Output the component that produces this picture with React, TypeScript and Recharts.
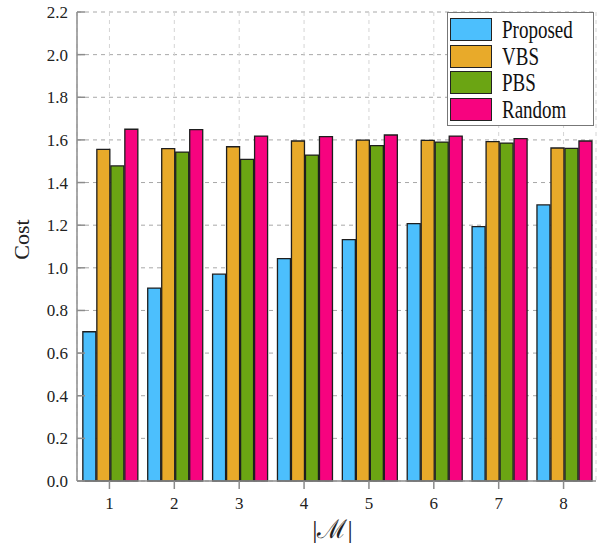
import React from "react"
import {
  BarChart,
  Bar,
  XAxis,
  YAxis,
  CartesianGrid,
  Legend
} from "recharts"

const sizes = ["1", "2", "3", "4", "5", "6", "7", "8"]
const proposed = [0.70, 0.905, 0.97, 1.043, 1.132, 1.207, 1.193, 1.295]
const vbs = [1.556, 1.559, 1.568, 1.595, 1.599, 1.598, 1.592, 1.562]
const pbs = [1.478, 1.543, 1.509, 1.529, 1.573, 1.590, 1.585, 1.560]
const random = [1.65, 1.648, 1.618, 1.615, 1.623, 1.618, 1.606, 1.595]
const yTicks = [0, 0.2, 0.4, 0.6, 0.8, 1.0, 1.2, 1.4, 1.6, 1.8, 2.0, 2.2]

const series = [
  { key: "Proposed", color: "#4cbffd" },
  { key: "VBS", color: "#e8aa2a" },
  { key: "PBS", color: "#6ba513" },
  { key: "Random", color: "#f7037f" }
]

const data = sizes.map((m, i) => ({
  m,
  Proposed: proposed[i],
  VBS: vbs[i],
  PBS: pbs[i],
  Random: random[i]
}))

const font = "'Liberation Serif', serif"
const axisGrey = "#8c8c8c"

function LegendBox() {
  return (
    <div
      style={{
        border: "1.5px solid #777",
        background: "#fff",
        padding: "3px 0 2px 2px",
        fontFamily: font,
        fontSize: 25,
        color: "#111"
      }}
    >
      {series.map(s => (
        <div
          key={s.key}
          style={{ display: "flex", alignItems: "center", height: 26.7 }}
        >
          <div
            style={{
              width: 40,
              height: 21,
              background: s.color,
              border: "1.5px solid #222",
              marginRight: 10,
              flexShrink: 0
            }}
          />
          <span
            style={{
              display: "inline-block",
              transform: "scaleX(0.76)",
              transformOrigin: "left center",
              whiteSpace: "nowrap",
              lineHeight: 1
            }}
          >
            {s.key}
          </span>
        </div>
      ))}
    </div>
  )
}

function CostLabel(props: any) {
  const vb = props.viewBox || { x: 0, y: 0, width: 0, height: 0 }
  const cx = vb.x + 21
  const cy = vb.y + vb.height / 2 - 7
  return (
    <text
      x={cx}
      y={cy}
      transform={`rotate(-90 ${cx} ${cy})`}
      textAnchor="middle"
      dominantBaseline="central"
      fill="#222"
      fontFamily={font}
      fontSize={22}
    >
      Cost
    </text>
  )
}

function SizeLabel(props: any) {
  const vb = props.viewBox || { x: 0, y: 0, width: 0, height: 0 }
  return (
    <text
      x={vb.x + vb.width / 2 - 4}
      y={vb.y + vb.height - 7}
      textAnchor="middle"
      fill="#222"
      fontFamily={font}
      fontSize={26}
    >
      |ℳ|
    </text>
  )
}

export default function App() {
  return (
    <div style={{ position: "absolute", left: 0, top: 0 }}>
      <BarChart
        width={600}
        height={545}
        data={data}
        margin={{ top: 12, right: 4, left: 0, bottom: 0 }}
        barCategoryGap="9%"
        barGap={1}
      >
        <CartesianGrid
          vertical={false}
          stroke="#a8a8a8"
          strokeDasharray="4 4"
        />
        <CartesianGrid
          horizontal={false}
          stroke="#d4d4d4"
          strokeDasharray="4 4"
        />
        <XAxis
          dataKey="m"
          height={64}
          stroke={axisGrey}
          strokeWidth={1.5}
          tickSize={8}
          tickMargin={8}
          tick={{ fill: "#222", fontFamily: font, fontSize: 17 }}
          label={<SizeLabel />}
        />
        <XAxis
          xAxisId="top"
          dataKey="m"
          orientation="top"
          height={0}
          stroke={axisGrey}
          strokeWidth={1.5}
          tick={false}
          tickLine={false}
        />
        <YAxis
          width={77}
          domain={[0, 2.2]}
          ticks={yTicks}
          interval={0}
          stroke={axisGrey}
          strokeWidth={1.5}
          tickSize={-8}
          tickMargin={17}
          tickFormatter={v => v.toFixed(1)}
          tick={{ fill: "#222", fontFamily: font, fontSize: 17 }}
          label={<CostLabel />}
        />
        <YAxis
          yAxisId="right"
          orientation="right"
          width={0}
          domain={[0, 2.2]}
          ticks={yTicks}
          interval={0}
          stroke={axisGrey}
          strokeWidth={1.5}
          tickSize={-8}
          tick={() => <g />}
        />
        <Legend
          layout="horizontal"
          verticalAlign="middle"
          align="center"
          wrapperStyle={{ left: 447, top: 12, width: 147, height: "auto" }}
          content={() => <LegendBox />}
        />
        {series.map(s => (
          <Bar
            key={s.key}
            dataKey={s.key}
            fill={s.color}
            stroke="#1e1e1e"
            strokeWidth={1.3}
            isAnimationActive={false}
          />
        ))}
      </BarChart>
    </div>
  )
}
